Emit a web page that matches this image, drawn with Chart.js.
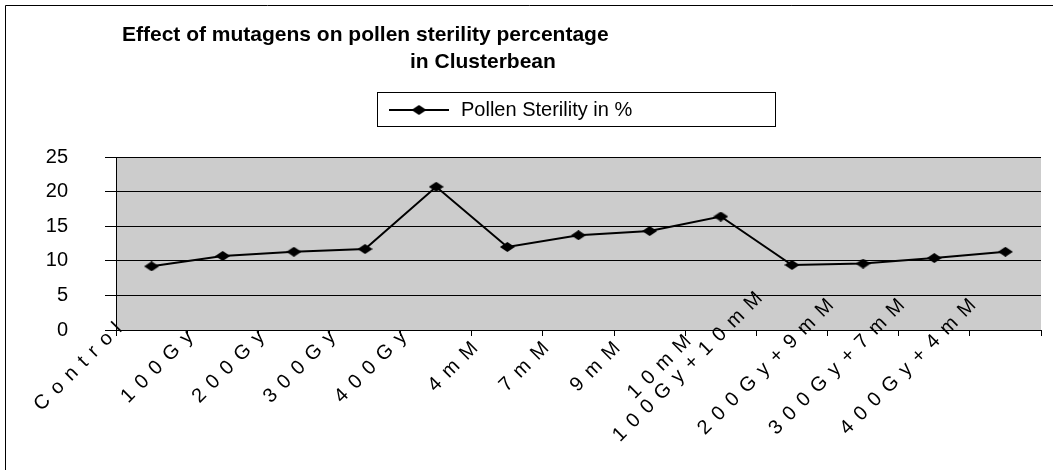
<!DOCTYPE html>
<html>
<head>
<meta charset="utf-8">
<script src="https://cdn.jsdelivr.net/npm/chart.js@4.4.1/dist/chart.umd.min.js"></script>
<style>
  html,body{margin:0;padding:0;background:#fff;}
  #wrap{width:1053px;height:470px;}
</style>
</head>
<body>
<div id="wrap"><canvas id="chart" width="1053" height="470"></canvas></div>
<script>
// data
const categories = ['Control','100Gy','200Gy','300Gy','400Gy','4mM','7mM','9mM','10mM','100Gy+10mM','200Gy+9mM','300Gy+7mM','400Gy+4mM'];
const sterility = [9.2,10.7,11.3,11.7,20.7,12.0,13.7,14.3,16.4,9.4,9.6,10.4,11.3];
const yTicks = [0,5,10,15,20,25];
const titleLines = ['Effect of mutagens on pollen sterility percentage','in Clusterbean'];
const seriesName = 'Pollen Sterility in %';

const FONT = '"Liberation Sans", Arial, sans-serif';

// flattened excel-ish diamond marker
function diamond(w,h){
  const c=document.createElement('canvas');
  c.width=w;c.height=h;
  const g=c.getContext('2d');
  g.fillStyle='#000';
  g.beginPath();
  g.moveTo(w/2,0);g.lineTo(w,h/2);g.lineTo(w/2,h);g.lineTo(0,h/2);
  g.closePath();g.fill();
  return c;
}
const marker = diamond(15,10);

// grey plot area + outer frame
const background = {
  id:'background',
  beforeDraw(chart){
    const {ctx,chartArea:a} = chart;
    ctx.save();
    ctx.fillStyle='#fff';
    ctx.fillRect(0,0,chart.width,chart.height);
    ctx.fillStyle='#cccccc';
    ctx.fillRect(a.left,a.top,a.right-a.left,a.bottom-a.top);
    ctx.strokeStyle='#000';
    ctx.lineWidth=1;
    ctx.beginPath();
    ctx.moveTo(5.5,chart.height);ctx.lineTo(5.5,5.5);ctx.lineTo(chart.width,5.5);
    ctx.stroke();
    ctx.restore();
  }
};

// title, boxed legend and the spaced, slanted category labels
const decorations = {
  id:'decorations',
  afterDraw(chart){
    const ctx=chart.ctx;
    ctx.save();
    ctx.fillStyle='#000';
    ctx.textBaseline='middle';
    ctx.textAlign='left';

    ctx.font='bold 21px '+FONT;
    ctx.fillText(titleLines[0],122,35);
    ctx.fillText(titleLines[1],410,62);

    // legend box
    const ds=chart.data.datasets[0];
    ctx.strokeStyle='#000';
    ctx.lineWidth=1;
    ctx.strokeRect(377.5,92.5,398,34);
    ctx.lineWidth=ds.borderWidth;
    ctx.beginPath();ctx.moveTo(389,110);ctx.lineTo(449,110);ctx.stroke();
    ctx.drawImage(marker,419-marker.width/2,110-marker.height/2);
    ctx.font='20px '+FONT;
    ctx.fillText(ds.label,461,110);

    // x labels
    const xs=chart.scales.x;
    const half=(xs.getPixelForValue(1)-xs.getPixelForValue(0))/2;
    const gap=8.5, cy=367, c45=Math.SQRT1_2;
    ctx.font='20px '+FONT;
    categories.forEach((lab,i)=>{
      const chars=lab.split('');
      const widths=chars.map(ch=>ctx.measureText(ch).width);
      const W=widths.reduce((s,w)=>s+w,0)+gap*(chars.length-1);
      const xEnd=xs.getPixelForValue(i)-half+3;
      const cx=xEnd-(W/2)*c45;
      ctx.save();
      ctx.translate(cx,cy);
      ctx.rotate(-Math.PI/4);
      let x=-W/2;
      chars.forEach((ch,k)=>{ctx.fillText(ch,x,0);x+=widths[k]+gap;});
      ctx.restore();
    });
    ctx.restore();
  }
};

new Chart(document.getElementById('chart'),{
  type:'line',
  data:{
    labels:categories,
    datasets:[{
      label:seriesName,
      data:sterility,
      borderColor:'#000',
      backgroundColor:'#000',
      borderWidth:2,
      tension:0,
      fill:false,
      pointStyle:marker,
      pointRadius:6,
      pointHoverRadius:6
    }]
  },
  options:{
    responsive:false,
    animation:false,
    devicePixelRatio:1,
    layout:{padding:{top:157,right:12,left:0,bottom:0}},
    plugins:{legend:{display:false},title:{display:false},tooltip:{enabled:false}},
    scales:{
      x:{
        type:'category',
        offset:true,
        grid:{display:true,drawOnChartArea:false,drawTicks:true,tickLength:6,color:'#000',offset:true},
        border:{display:true,color:'#000',width:1},
        ticks:{display:false},
        afterFit(s){s.height=140;}
      },
      y:{
        min:0,max:25,
        afterBuildTicks(s){s.ticks=yTicks.map(v=>({value:v}));},
        ticks:{color:'#000',font:{family:FONT,size:20},padding:37},
        grid:{color:'#000',lineWidth:1,drawTicks:true,tickLength:11},
        border:{display:true,color:'#000',width:1},
        afterFit(s){s.width=116;}
      }
    }
  },
  plugins:[background,decorations]
});
</script>
</body>
</html>
